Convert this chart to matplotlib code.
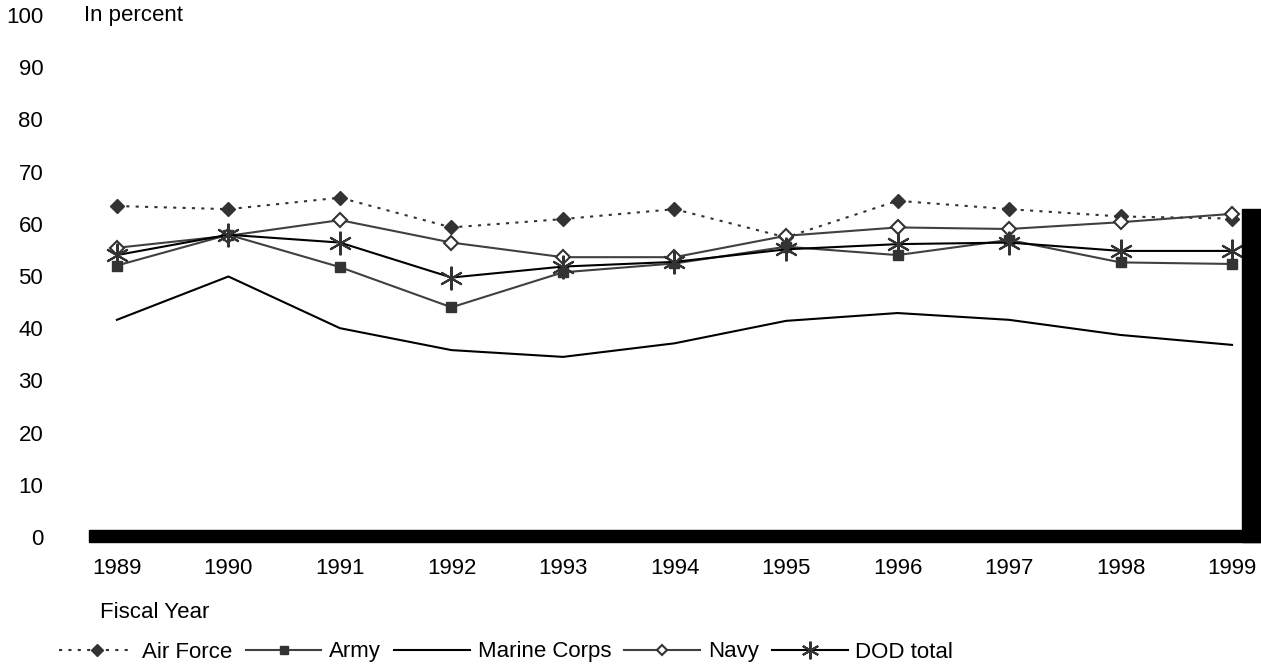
import matplotlib.pyplot as plt
from matplotlib.patches import Rectangle

plt.rcParams['font.family'] = ['Liberation Sans', 'DejaVu Sans']

years = [1989, 1990, 1991, 1992, 1993, 1994, 1995, 1996, 1997, 1998, 1999]
air_force = [63.4, 62.8, 65.0, 59.3, 60.9, 62.8, 57.4, 64.4, 62.8, 61.4, 61.0]
army = [52.0, 57.9, 51.7, 44.0, 50.7, 52.4, 55.6, 54.0, 56.9, 52.6, 52.3]
marine_corps = [41.6, 49.9, 40.0, 35.8, 34.5, 37.1, 41.4, 42.9, 41.6, 38.7, 36.8]
navy = [55.4, 57.7, 60.7, 56.4, 53.6, 53.6, 57.7, 59.3, 59.0, 60.3, 61.9]
dod_total = [54.0, 57.9, 56.4, 49.7, 51.8, 52.7, 55.1, 56.1, 56.4, 54.8, 54.8]
yticks = [0, 10, 20, 30, 40, 50, 60, 70, 80, 90, 100]

fig = plt.figure(figsize=(12.61, 6.65), dpi=100)
ax = fig.add_axes([0.0706, 0.1925, 0.9144, 0.785])

gray = '#333333'
ax.plot(years, air_force, color=gray, lw=1.5, ls=(0, (1.5, 3)),
        marker='D', ms=7.5, mfc=gray, mec=gray, label='Air Force')
ax.plot(years, army, color='#404040', lw=1.5,
        marker='s', ms=7.5, mfc=gray, mec=gray, label='Army')
ax.plot(years, marine_corps, color='black', lw=1.5, label='Marine Corps')
ax.plot(years, navy, color='#404040', lw=1.5,
        marker='D', ms=7, mfc='white', mec=gray, mew=1.5, label='Navy')
ax.plot(years, dod_total, color='black', lw=1.5,
        marker=(6, 2, 0), ms=17, mec=gray, mew=1.5, label='DOD total')

ax.set_xlim(1988.75, 1999.09)
ax.set_ylim(0, 100)
ax.set_xticks(years)
ax.set_yticks(yticks)
ax.tick_params(axis='both', length=0, labelsize=16)
ax.tick_params(axis='y', pad=33)
ax.tick_params(axis='x', pad=15)
for s in ax.spines.values():
    s.set_visible(False)

# thick floor and right wall like the original
ax.add_patch(Rectangle((0, -0.0096), 1.0165, 0.023, transform=ax.transAxes,
                       color='black', clip_on=False, zorder=5))
ax.add_patch(Rectangle((1.0, -0.0096), 0.0165, 0.638, transform=ax.transAxes,
                       color='black', clip_on=False, zorder=5))

fig.text(84 / 1261, 1 - 15 / 665, 'In percent', fontsize=16, va='center', ha='left')
fig.text(100 / 1261, 1 - 612 / 665, 'Fiscal Year', fontsize=16, va='center', ha='left')

fig.legend(loc='center', bbox_to_anchor=(506 / 1261, 1 - 652 / 665), ncol=5,
           frameon=False, fontsize=16, handlelength=3.4, handletextpad=0.35,
           columnspacing=0.6, markerscale=0.75)

fig.savefig('out.png', dpi=100)
